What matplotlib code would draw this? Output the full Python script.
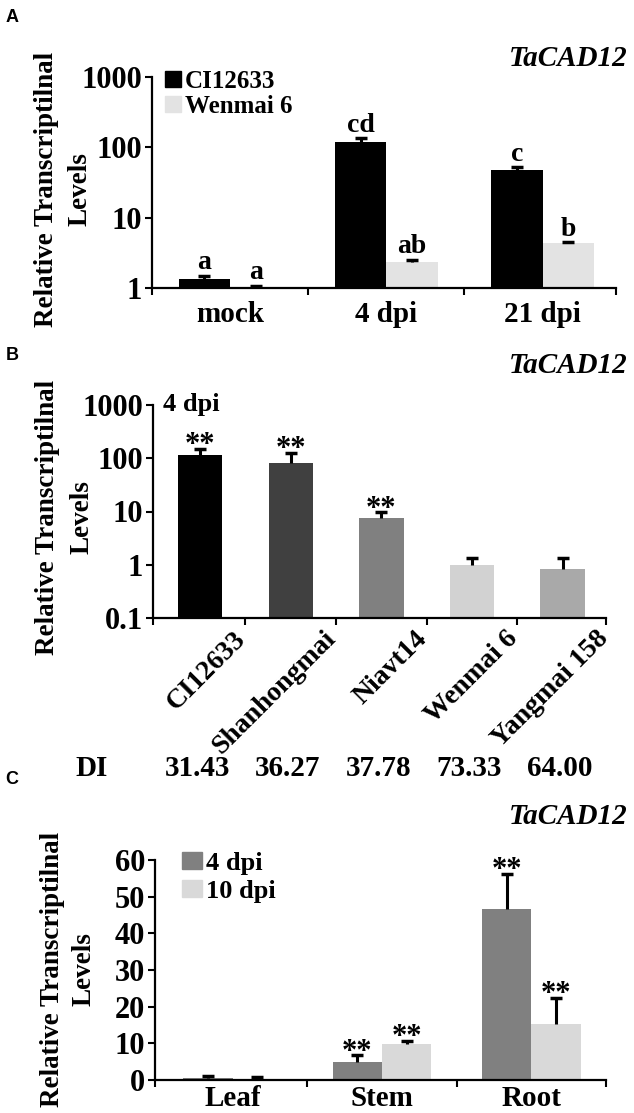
import numpy as np
import matplotlib
matplotlib.use("Agg")
import matplotlib.pyplot as plt
import matplotlib.transforms as mtransforms
from matplotlib.patches import Patch

plt.rcParams['font.family'] = ['Liberation Serif', 'DejaVu Serif']
plt.rcParams['font.weight'] = 'bold'
plt.rcParams['axes.linewidth'] = 1.6

# ---------------- data ----------------
# Panel A
a_groups = ['mock', '4 dpi', '21 dpi']
a_ci = [1.35, 120, 48]
a_ci_err = [0.15, 14, 4]
a_wm = [1.05, 2.35, 4.3]
a_wm_err = [0.03, 0.19, 0.2]
a_ci_letters = ['a', 'cd', 'c']
a_wm_letters = ['a', 'ab', 'b']
a_series = ['CI12633', 'Wenmai 6']

# Panel B
b_cultivars = ['CI12633', 'Shanhongmai', 'Niavt14', 'Wenmai 6', 'Yangmai 158']
b_vals = [117, 82, 7.7, 1.0, 0.84]
b_err = [33, 44, 1.9, 0.33, 0.49]
b_sig = ['**', '**', '**', '', '']
b_di = ['31.43', '36.27', '37.78', '73.33', '64.00']

# Panel C
c_tissues = ['Leaf', 'Stem', 'Root']
c_4dpi = [0.55, 4.8, 46.7]
c_4dpi_err = [0.65, 1.9, 9.5]
c_10dpi = [0.4, 9.9, 15.3]
c_10dpi_err = [0.4, 0.7, 7.0]
c_sig4 = ['', '**', '**']
c_sig10 = ['', '**', '**']
c_series = ['4 dpi', '10 dpi']

gene = 'TaCAD12'
ylab_lines = ['Relative Transcriptilnal', 'Levels']

# ---------------- figure ----------------
W, H = 634, 1113
fig = plt.figure(figsize=(W / 100, H / 100), dpi=100)


def rect(l, r, t, b):
    return [l / W, 1 - b / H, (r - l) / W, (b - t) / H]


def style(ax):
    for s in ['top', 'right']:
        ax.spines[s].set_visible(False)
    ax.tick_params(axis='both', which='major', direction='out', length=5,
                   width=1.5, labelsize=22, pad=2)
    ax.tick_params(axis='y', which='minor', length=0)


def caps(ax, x, vals, errs):
    vals = np.asarray(vals, float)
    errs = np.asarray(errs, float)
    ax.vlines(x, vals, vals + errs, color='black', lw=2.2, zorder=3)
    ax.plot(x, vals + errs, ls='none', marker='_', ms=9, mew=2.5,
            color='black', zorder=3)


def annot(ax, x, y, txt, size, dy):
    for xi, yi, t in zip(x, y, txt):
        if t:
            ax.annotate(t, xy=(xi, yi), xytext=(0, dy), textcoords='offset points',
                        ha='center', va='baseline', fontsize=size, fontweight='bold')


bw = 0.33

# ---------------- Panel A ----------------
axA = fig.add_axes(rect(152, 616, 77, 288))
style(axA)
xa = np.arange(len(a_groups))
axA.set_yscale('log')
axA.bar(xa - bw / 2, a_ci, bw, color='black', zorder=2)
axA.bar(xa + bw / 2, a_wm, bw, color='#e3e3e3', zorder=2)
caps(axA, xa - bw / 2, a_ci, a_ci_err)
caps(axA, xa + bw / 2, a_wm, a_wm_err)
annot(axA, xa - bw / 2, np.add(a_ci, a_ci_err), a_ci_letters, 20, 4.5)
annot(axA, xa + bw / 2, np.add(a_wm, a_wm_err), a_wm_letters, 20, 4.5)
axA.set_ylim(1, 1000)
axA.set_xlim(-0.5, 2.47)
axA.set_yticks([1, 10, 100, 1000])
axA.set_yticklabels(['1', '10', '100', '1000'])
axA.set_xticks([-0.5, 0.5, 1.5, 2.47])
axA.set_xticklabels([])
axA.set_xticks(xa, minor=True)
axA.set_xticklabels(a_groups, minor=True)
axA.tick_params(axis='x', which='minor', length=0, labelsize=21, pad=9)
axA.legend(handles=[Patch(color='black'), Patch(color='#e3e3e3')], labels=a_series,
           loc='upper left', bbox_to_anchor=(165 / W, 1 - 70 / H),
           bbox_transform=fig.transFigure, frameon=False, fontsize=18,
           handlelength=0.65, handleheight=0.6, handletextpad=0.15,
           labelspacing=0.08, borderpad=0, borderaxespad=0)

# ---------------- Panel B ----------------
axB = fig.add_axes(rect(153, 606, 405, 618))
style(axB)
xb = np.arange(len(b_cultivars))
axB.set_yscale('log')
b_colors = ['#000000', '#404040', '#808080', '#d2d2d2', '#a9a9a9']
axB.bar(xb, b_vals, 0.49, color=b_colors, zorder=2)
caps(axB, xb, b_vals, b_err)
annot(axB, xb, np.add(b_vals, b_err), b_sig, 22, -3)
axB.set_ylim(0.1, 1000)
axB.set_xlim(-0.52, 4.48)
axB.set_yticks([0.1, 1, 10, 100, 1000])
axB.set_yticklabels(['0.1', '1', '10', '100', '1000'])
axB.set_xticks([-0.52, 0.5, 1.5, 2.5, 3.5, 4.48])
axB.set_xticklabels([])
axB.set_xticks(xb, minor=True)
axB.set_xticklabels(b_cultivars, minor=True, rotation=45, ha='right', va='top',
                    rotation_mode='anchor', fontsize=20)
axB.tick_params(axis='x', which='minor', length=0, pad=6)
off = mtransforms.ScaledTranslation(33 / 100, 0, fig.dpi_scale_trans)
for lab in axB.get_xticklabels(minor=True):
    lab.set_transform(lab.get_transform() + off)
axB.text(0.022, 1.0, '4 dpi', transform=axB.transAxes, ha='left', va='center',
         fontsize=19, fontweight='bold')
# DI row
fig.text(92 / W, 1 - 768 / H, 'DI', ha='center', va='center', fontsize=21,
         fontweight='bold')
trB = mtransforms.blended_transform_factory(axB.transData, fig.transFigure)
for xi, d in zip(xb, b_di):
    axB.text(xi - 0.03, 1 - 768 / H, d, transform=trB, ha='center', va='center',
             fontsize=21, fontweight='bold', clip_on=False)

# ---------------- Panel C ----------------
axC = fig.add_axes(rect(155, 606, 860, 1080))
style(axC)
xc = np.arange(len(c_tissues))
axC.bar(xc - bw / 2, c_4dpi, bw, color='#808080', zorder=2)
axC.bar(xc + bw / 2, c_10dpi, bw, color='#d9d9d9', zorder=2)
caps(axC, xc - bw / 2, c_4dpi, c_4dpi_err)
caps(axC, xc + bw / 2, c_10dpi, c_10dpi_err)
annot(axC, xc - bw / 2, np.add(c_4dpi, c_4dpi_err), c_sig4, 22, -3)
annot(axC, xc + bw / 2, np.add(c_10dpi, c_10dpi_err), c_sig10, 22, -3)
axC.set_ylim(0, 60)
axC.set_xlim(-0.52, 2.5)
axC.set_yticks(np.arange(0, 61, 10))
axC.set_xticks([-0.52, 0.5, 1.5, 2.5])
axC.set_xticklabels([])
axC.set_xticks(xc, minor=True)
axC.set_xticklabels(c_tissues, minor=True)
axC.tick_params(axis='x', which='minor', length=0, labelsize=21, pad=3.5)
axC.legend(handles=[Patch(color='#808080'), Patch(color='#d9d9d9')], labels=c_series,
           loc='upper left', bbox_to_anchor=(182 / W, 1 - 852 / H),
           bbox_transform=fig.transFigure, frameon=False, fontsize=19,
           handlelength=0.75, handleheight=0.6, handletextpad=0.15,
           labelspacing=0.18, borderpad=0, borderaxespad=0)

# ---------------- labels ----------------
for yc, x1, x2 in [(189, 47, 80), (517, 48, 82), (969, 53, 84)]:
    fig.text(x1 / W, 1 - yc / H, ylab_lines[0], rotation=90, ha='center',
             va='center', fontsize=19.5, fontweight='bold')
    fig.text(x2 / W, 1 - yc / H, ylab_lines[1], rotation=90, ha='center',
             va='center', fontsize=19.5, fontweight='bold')
for yt in [58, 365, 817]:
    fig.text(628 / W, 1 - yt / H, gene, ha='right', va='center', fontsize=21,
             fontweight='bold', fontstyle='italic')
for lab, yl in [('A', 17), ('B', 355), ('C', 780)]:
    fig.text(12 / W, 1 - yl / H, lab, ha='center', va='center', fontsize=13,
             fontweight='bold', family=['Liberation Sans', 'DejaVu Sans'])

fig.savefig('out.png', dpi=100)
